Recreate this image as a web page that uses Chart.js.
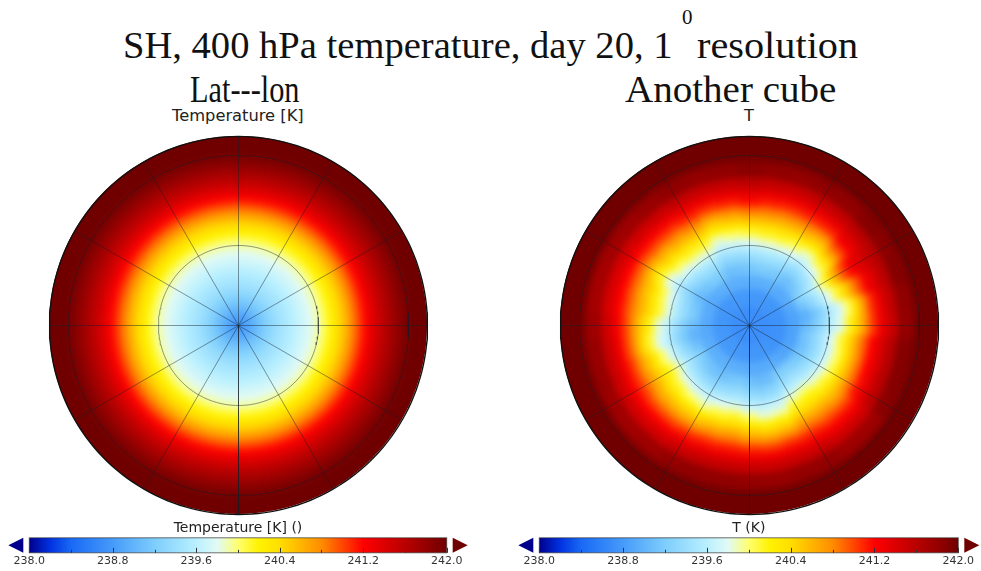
<!DOCTYPE html>
<html>
<head>
<meta charset="utf-8">
<title>SH, 400 hPa temperature</title>
<script src="https://cdn.jsdelivr.net/npm/chart.js@4"></script>
<style>
    html, body { margin: 0; background: #fff; }
    #page { position: relative; width: 981px; height: 571px; overflow: hidden; }
    #page canvas { position: absolute; }
    .serif { position: absolute; font-family: "Liberation Serif", serif; color: #111; white-space: nowrap; line-height: 1; transform-origin: left top; }
    .small { position: absolute; font: 16.3px "DejaVu Sans", sans-serif; color: #222; white-space: nowrap; line-height: 1; }
    .disc { position: absolute; top: 136px; width: 378px; height: 378px; border-radius: 50%; overflow: hidden; }
    .disc canvas { left: -16px; top: -16px; filter: blur(3.5px); }
</style>
</head>
<body>
<div id="page">
    <div class="serif" style="left:123px;top:26px;font-size:38px;transform:scaleX(1.015)">SH, 400 hPa temperature, day 20, 1</div>
    <div class="serif" style="left:682px;top:7px;font-size:21px">0</div>
    <div class="serif" style="left:697px;top:26px;font-size:38px;transform:scaleX(1.06)">resolution</div>
    <div class="serif" style="left:190px;top:71px;font-size:37px;transform:scaleX(0.82)">Lat---lon</div>
    <div class="serif" style="left:625px;top:71px;font-size:37px;transform:scaleX(1.055)">Another cube</div>
    <div class="small" style="left:172px;top:108px">Temperature [K]</div>
    <div class="small" style="left:744px;top:108px">T</div>

    <div class="disc" style="left:49px"><canvas id="latlonField" width="411" height="411"></canvas></div>
    <div class="disc" style="left:560px"><canvas id="cubeField" width="411" height="411"></canvas></div>
    <canvas id="latlonGrid" width="381" height="381" style="left:48px;top:135px"></canvas>
    <canvas id="cubeGrid" width="381" height="381" style="left:559px;top:135px"></canvas>
    <canvas id="latlonBar" width="490" height="51" style="left:0;top:520px"></canvas>
    <canvas id="cubeBar" width="491" height="51" style="left:490px;top:520px"></canvas>
</div>

<script>
// colour table, K -> rgb
const colourLevels = [238.0, 238.2, 238.4, 238.8, 239.2, 239.6, 239.8, 240.0, 240.2, 240.4, 240.8, 241.2, 241.6, 242.0];
const colourValues = [
    [0, 0, 140], [0, 50, 225], [25, 105, 245], [70, 155, 250], [125, 205, 252], [185, 240, 255], [225, 250, 245],
    [255, 255, 110], [255, 242, 0], [255, 222, 0], [255, 140, 0], [255, 0, 0], [185, 0, 0], [112, 0, 0],
];
const barTicks = [238.0, 238.8, 239.6, 240.4, 241.2, 242.0];

// left panel: zonal mean, ring radius in map px -> temperature
const latlonRingRadius = [2.5, 7.5, 12.5, 17.5, 22.5, 27.5, 32.5, 37.5, 42.5, 47.5, 52.5, 57.5, 62.5, 67.5, 72.5, 77.5, 82.5, 87.5,
    92.5, 97.5, 102.5, 107.5, 112.5, 117.5, 122.5, 127.5, 132.5, 137.5, 142.5, 147.5, 152.5, 157.5, 162.5, 167.5, 172.5];
const latlonTemps = [238.75, 238.82, 238.92, 239.02, 239.12, 239.22, 239.30, 239.38, 239.45, 239.50, 239.56, 239.62, 239.68, 239.74, 239.80, 239.87, 239.95, 240.07,
    240.20, 240.32, 240.45, 240.60, 240.75, 240.90, 241.05, 241.20, 241.32, 241.43, 241.53, 241.62, 241.70, 241.78, 241.86, 241.94, 242.0];

// right panel: rows are bearings (every 10 deg clockwise from the top), columns are rings
const cubeBearings = [0, 10, 20, 30, 40, 50, 60, 70, 80, 90, 100, 110, 120, 130, 140, 150, 160, 170, 180, 190, 200, 210, 220, 230, 240, 250, 260, 270, 280, 290, 300, 310, 320, 330, 340, 350];
const cubeRingRadius = [10, 30, 45, 58, 68, 76, 84, 92, 100, 108, 116, 124, 132, 142, 155, 175];
const cubeTemps = [
    [238.70, 238.78, 238.96, 239.15, 239.34, 239.53, 239.80, 240.07, 240.34, 240.62, 240.89, 241.17, 241.35, 241.57, 241.86, 242],
    [238.70, 238.78, 238.96, 239.19, 239.38, 239.57, 239.85, 240.12, 240.37, 240.62, 240.86, 241.11, 241.31, 241.53, 241.82, 242],
    [238.70, 238.78, 238.96, 239.19, 239.38, 239.57, 239.85, 240.12, 240.36, 240.60, 240.84, 241.08, 241.29, 241.51, 241.80, 242],
    [238.70, 238.78, 238.96, 239.15, 239.34, 239.53, 239.80, 240.06, 240.32, 240.58, 240.84, 241.10, 241.31, 241.53, 241.82, 242],
    [238.70, 238.76, 238.93, 239.08, 239.27, 239.46, 239.69, 239.90, 240.22, 240.51, 240.80, 241.09, 241.31, 241.53, 241.82, 242],
    [238.70, 238.76, 238.93, 239.15, 239.34, 239.53, 239.80, 240.08, 240.38, 240.68, 240.98, 241.24, 241.38, 241.58, 241.88, 242],
    [238.70, 238.74, 238.93, 239.27, 239.46, 239.67, 240.00, 240.35, 240.70, 241.00, 241.22, 241.36, 241.46, 241.60, 241.86, 242],
    [238.70, 238.74, 238.90, 239.15, 239.34, 239.53, 239.80, 240.07, 240.37, 240.67, 240.97, 241.24, 241.38, 241.58, 241.88, 242],
    [238.70, 238.72, 238.86, 238.96, 239.15, 239.34, 239.58, 239.75, 240.00, 240.36, 240.71, 241.07, 241.31, 241.53, 241.82, 242],
    [238.70, 238.72, 238.86, 239.04, 239.23, 239.42, 239.65, 239.82, 240.15, 240.45, 240.75, 241.05, 241.29, 241.51, 241.80, 242],
    [238.70, 238.72, 238.86, 239.15, 239.34, 239.53, 239.80, 240.07, 240.35, 240.64, 240.92, 241.20, 241.38, 241.60, 241.88, 242],
    [238.70, 238.72, 238.86, 239.11, 239.30, 239.50, 239.73, 240.00, 240.30, 240.60, 240.90, 241.20, 241.38, 241.60, 241.88, 242],
    [238.70, 238.72, 238.88, 239.13, 239.32, 239.52, 239.77, 240.04, 240.32, 240.60, 240.88, 241.16, 241.36, 241.58, 241.86, 242],
    [238.70, 238.74, 238.88, 239.19, 239.38, 239.57, 239.85, 240.11, 240.34, 240.57, 240.80, 241.03, 241.24, 241.46, 241.75, 242],
    [238.70, 238.76, 238.93, 239.25, 239.44, 239.64, 239.95, 240.19, 240.40, 240.61, 240.83, 241.04, 241.24, 241.46, 241.75, 242],
    [238.70, 238.76, 238.93, 239.21, 239.40, 239.59, 239.88, 240.15, 240.38, 240.62, 240.85, 241.08, 241.29, 241.51, 241.80, 242],
    [238.70, 238.76, 238.93, 239.08, 239.27, 239.46, 239.69, 239.90, 240.21, 240.49, 240.78, 241.06, 241.29, 241.51, 241.80, 242],
    [238.70, 238.76, 238.93, 239.06, 239.25, 239.44, 239.67, 239.85, 240.18, 240.46, 240.74, 241.02, 241.27, 241.49, 241.78, 242],
    [238.70, 238.76, 238.93, 239.11, 239.30, 239.50, 239.73, 240.00, 240.27, 240.53, 240.80, 241.07, 241.29, 241.51, 241.80, 242],
    [238.70, 238.78, 238.96, 239.19, 239.38, 239.57, 239.85, 240.12, 240.37, 240.62, 240.86, 241.11, 241.31, 241.53, 241.82, 242],
    [238.70, 238.78, 238.96, 239.15, 239.34, 239.53, 239.80, 240.06, 240.32, 240.58, 240.84, 241.10, 241.31, 241.53, 241.82, 242],
    [238.70, 238.78, 238.96, 239.09, 239.28, 239.48, 239.71, 239.92, 240.24, 240.51, 240.79, 241.06, 241.29, 241.51, 241.80, 242],
    [238.70, 238.78, 238.96, 239.11, 239.30, 239.50, 239.73, 240.00, 240.25, 240.51, 240.76, 241.01, 241.24, 241.46, 241.75, 242],
    [238.70, 238.78, 238.96, 239.17, 239.36, 239.55, 239.82, 240.09, 240.31, 240.54, 240.77, 241.00, 241.22, 241.44, 241.73, 242],
    [238.70, 238.78, 238.96, 239.23, 239.42, 239.61, 239.92, 240.16, 240.38, 240.60, 240.82, 241.04, 241.24, 241.46, 241.75, 242],
    [238.70, 238.78, 238.94, 239.11, 239.30, 239.50, 239.73, 240.00, 240.26, 240.52, 240.78, 241.04, 241.27, 241.49, 241.78, 242],
    [238.70, 238.78, 238.92, 239.00, 239.19, 239.38, 239.61, 239.78, 240.08, 240.39, 240.70, 241.00, 241.27, 241.49, 241.78, 242],
    [238.70, 238.76, 238.92, 239.06, 239.25, 239.44, 239.67, 239.85, 240.17, 240.45, 240.72, 241.00, 241.24, 241.46, 241.75, 242],
    [238.70, 238.76, 238.94, 239.19, 239.38, 239.57, 239.85, 240.11, 240.33, 240.55, 240.76, 240.98, 241.20, 241.42, 241.71, 242],
    [238.70, 238.76, 238.94, 239.15, 239.34, 239.53, 239.80, 240.06, 240.29, 240.51, 240.74, 240.97, 241.20, 241.42, 241.71, 242],
    [238.70, 238.76, 238.92, 239.04, 239.23, 239.42, 239.65, 239.82, 240.14, 240.41, 240.69, 240.96, 241.22, 241.44, 241.73, 242],
    [238.70, 238.76, 238.94, 239.13, 239.32, 239.52, 239.77, 240.03, 240.28, 240.52, 240.77, 241.02, 241.24, 241.46, 241.75, 242],
    [238.70, 238.78, 238.96, 239.19, 239.38, 239.57, 239.85, 240.12, 240.35, 240.59, 240.82, 241.05, 241.27, 241.49, 241.78, 242],
    [238.70, 238.78, 238.96, 239.19, 239.38, 239.57, 239.85, 240.12, 240.37, 240.62, 240.86, 241.11, 241.31, 241.53, 241.82, 242],
    [238.70, 238.78, 238.96, 239.08, 239.27, 239.46, 239.69, 239.90, 240.21, 240.49, 240.78, 241.06, 241.29, 241.51, 241.80, 242],
    [238.70, 238.78, 238.96, 239.11, 239.30, 239.50, 239.73, 240.00, 240.27, 240.55, 240.82, 241.10, 241.31, 241.53, 241.82, 242],
];

// graticule, map px from the pole
const gridCircles = [80, 170];
const gridSpokes = [0, 30, 60, 90, 120, 150, 180, 210, 240, 270, 300, 330];
const mapRadius = 189;
const canvasRadius = 205;

function tempColour(t) {
    let i = colourLevels.findIndex(l => l >= t);
    if (i <= 0) return `rgb(${colourValues[0]})`;
    const f = (t - colourLevels[i - 1]) / (colourLevels[i] - colourLevels[i - 1]);
    const c = colourValues[i].map((v, k) => Math.round(colourValues[i - 1][k] + (v - colourValues[i - 1][k]) * f));
    return `rgb(${c})`;
}

// doughnut rings: dataset 0 is the outermost one, so walk from the outside in
function ringDatasets(radii, colours) {
    const sets = [];
    for (let i = radii.length - 1; i >= 0; i--) {
        const inner = i === 0 ? 0 : (radii[i - 1] + radii[i]) / 2;
        const outer = i === radii.length - 1 ? canvasRadius : (radii[i] + radii[i + 1]) / 2;
        sets.push({
            data: colours[i].map(() => 1),
            weight: outer - inner,
            backgroundColor: colours[i],
            borderColor: colours[i],
            borderWidth: 1,
            hoverOffset: 0,
        });
    }
    return sets;
}

function drawField(id, radii, colours, rotation) {
    new Chart(document.getElementById(id), {
        type: 'doughnut',
        data: { datasets: ringDatasets(radii, colours) },
        options: {
            responsive: false,
            animation: false,
            events: [],
            cutout: 0,
            rotation,
            plugins: { legend: { display: false }, tooltip: { enabled: false } },
        },
    });
}

function drawGraticule(id) {
    const toXY = (r, deg) => ({ x: r * Math.sin(deg * Math.PI / 180), y: r * Math.cos(deg * Math.PI / 180) });
    const ring = r => Array.from({ length: 181 }, (_, i) => toXY(r, i * 2));
    const lineColour = 'rgba(20,30,40,0.45)';
    const datasets = [
        ...gridSpokes.map(b => ({ data: [toXY(0, b), toXY(mapRadius, b)], borderColor: lineColour, borderWidth: 1 })),
        ...gridCircles.map(r => ({ data: ring(r), borderColor: lineColour, borderWidth: 1 })),
        { data: ring(mapRadius), borderColor: '#111', borderWidth: 1.4 },
    ];
    new Chart(document.getElementById(id), {
        type: 'scatter',
        data: { datasets: datasets.map(d => ({ ...d, showLine: true, pointRadius: 0 })) },
        options: {
            responsive: false,
            animation: false,
            events: [],
            plugins: { legend: { display: false }, tooltip: { enabled: false } },
            scales: {
                x: { display: false, min: -190.5, max: 190.5 },
                y: { display: false, min: -190.5, max: 190.5 },
            },
        },
    });
}

// tick marks that sit inside the bar, and the over/under triangles
const barDecor = {
    id: 'barDecor',
    afterDatasetsDraw(chart) {
        const { ctx, chartArea: a, scales: { x } } = chart;
        ctx.save();
        ctx.strokeStyle = 'rgba(50,50,50,0.7)';
        ctx.lineWidth = 1;
        ctx.strokeRect(a.left, a.top, a.right - a.left, a.bottom - a.top);
        ctx.strokeStyle = '#333';
        x.ticks.forEach(t => {
            const px = Math.round(x.getPixelForValue(t.value)) + 0.5;
            const len = t.label ? 5 : 3;
            ctx.beginPath();
            ctx.moveTo(px, a.bottom);
            ctx.lineTo(px, a.bottom - len);
            ctx.stroke();
        });
        const midY = (a.top + a.bottom) / 2;
        const tri = (tip, base, col) => {
            ctx.fillStyle = col;
            ctx.beginPath();
            ctx.moveTo(tip, midY);
            ctx.lineTo(base, a.top);
            ctx.lineTo(base, a.bottom);
            ctx.closePath();
            ctx.fill();
        };
        tri(a.left - 21, a.left - 6, tempColour(238));
        tri(a.right + 21, a.right + 6, tempColour(242));
        ctx.restore();
    },
};

function drawColourBar(id, label, left, right) {
    new Chart(document.getElementById(id), {
        type: 'bar',
        data: {
            labels: [label],
            datasets: [{
                data: [[colourLevels[0], colourLevels[colourLevels.length - 1]]],
                barPercentage: 1,
                categoryPercentage: 1,
                borderWidth: 0,
                borderSkipped: false,
                backgroundColor: ctx => {
                    const { chartArea: a, ctx: c } = ctx.chart;
                    if (!a) return '#888';
                    const g = c.createLinearGradient(a.left, 0, a.right, 0);
                    colourLevels.forEach((l, i) => g.addColorStop((l - 238) / 4, `rgb(${colourValues[i]})`));
                    return g;
                },
            }],
        },
        plugins: [barDecor],
        options: {
            indexAxis: 'y',
            responsive: false,
            animation: false,
            events: [],
            layout: { padding: { left, right, top: 0, bottom: 1 } },
            plugins: {
                legend: { display: false },
                tooltip: { enabled: false },
                title: {
                    display: true,
                    text: label,
                    color: '#222',
                    font: { family: 'DejaVu Sans', size: 14, weight: 'normal' },
                    padding: { top: 0, bottom: 1 },
                },
            },
            scales: {
                y: { display: false },
                x: {
                    min: 238,
                    max: 242,
                    afterBuildTicks: s => {
                        s.ticks = barTicks.flatMap((t, i) => i ? [{ value: t - 0.4 }, { value: t }] : [{ value: t }]);
                    },
                    grid: { display: false, drawTicks: false },
                    border: { display: false },
                    ticks: {
                        color: '#333',
                        font: { family: 'DejaVu Sans', size: 11 },
                        padding: 2,
                        autoSkip: false,
                        maxRotation: 0,
                        callback: v => barTicks.some(t => Math.abs(t - v) < 1e-6) ? v.toFixed(1) : '',
                    },
                },
            },
        },
    });
}

drawField('latlonField', [...latlonRingRadius, 175], [...latlonTemps.map(t => [tempColour(t)]), [tempColour(242)]], 0);
const cubeColumns = cubeRingRadius.map((_, c) => cubeBearings.map((_, b) => tempColour(cubeTemps[b][c])));
drawField('cubeField', cubeRingRadius, cubeColumns, -5);
drawGraticule('latlonGrid');
drawGraticule('cubeGrid');
drawColourBar('latlonBar', 'Temperature [K] ()', 29.3, 43.3);
drawColourBar('cubeBar', 'T (K)', 49.3, 22.7);
</script>
</body>
</html>
